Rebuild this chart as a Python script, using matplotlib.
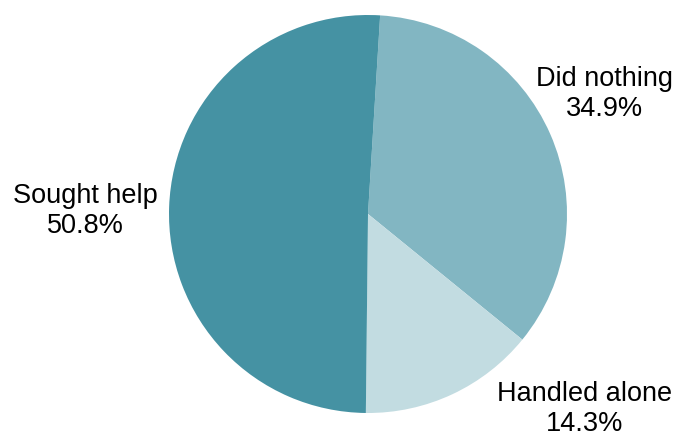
import numpy as np
import matplotlib
matplotlib.use("Agg")
import matplotlib.pyplot as plt

plt.rcParams['font.family'] = ['Liberation Sans', 'DejaVu Sans']

labels = ["Did nothing", "Handled alone", "Sought help"]
shares = [34.9, 14.3, 50.8]
colors = ["#82b6c2", "#c2dce1", "#4592a3"]

fig = plt.figure(figsize=(6.77, 4.34), dpi=100)
# pie centre ~ (368, 214) px, radius ~ 199 px
ax = fig.add_axes([(368 - 199) / 677, (434 - 214 - 199) / 434, 398 / 677, 398 / 434])

wedges, _ = ax.pie(shares, colors=colors, startangle=86.5, counterclock=False,
                   radius=1, wedgeprops=dict(linewidth=0))

# label positions (data units, pie radius = 1)
label_pos = [(1.186, 0.603), (1.09, -0.98), (-1.42, 0.015)]
for name, val, (x, y) in zip(labels, shares, label_pos):
    ax.text(x, y, "{}\n{:.1f}%".format(name, val), ha='center', va='center',
            fontsize=19.5, linespacing=1.2, clip_on=False)

ax.set_xlim(-1, 1)
ax.set_ylim(-1, 1)
ax.set_aspect('equal')
ax.axis('off')

fig.savefig("out.png", dpi=100)
